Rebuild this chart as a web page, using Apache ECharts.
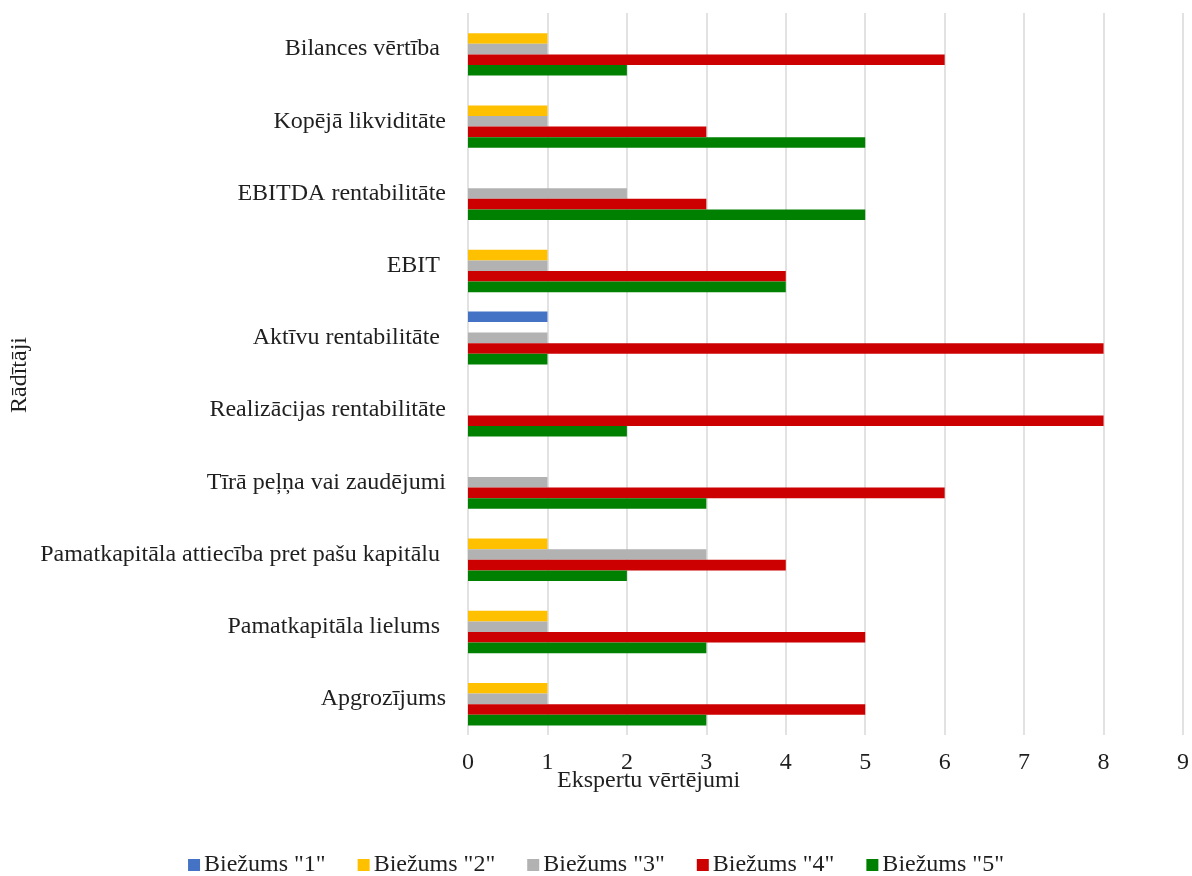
<!DOCTYPE html>
<html>
<head>
<meta charset="utf-8">
<script src="https://cdn.jsdelivr.net/npm/echarts@6/dist/echarts.min.js"></script>
<style>
  html, body { margin: 0; padding: 0; background: #fff; }
  #chart { width: 1192px; height: 876px; }
</style>
</head>
<body>
<div id="chart"></div>
<script>
// Indicators, listed bottom to top along the category axis
const categories = [
  'Apgrozījums',
  'Pamatkapitāla lielums ',
  'Pamatkapitāla attiecība pret pašu kapitālu ',
  'Tīrā peļņa vai zaudējumi',
  'Realizācijas rentabilitāte',
  'Aktīvu rentabilitāte ',
  'EBIT ',
  'EBITDA rentabilitāte',
  'Kopējā likviditāte',
  'Bilances vērtība '
];

// Frequency of each expert score per indicator
const freq1 = [0, 0, 0, 0, 0, 1, 0, 0, 0, 0];
const freq2 = [1, 1, 1, 0, 0, 0, 1, 0, 1, 1];
const freq3 = [1, 1, 3, 1, 0, 1, 1, 2, 1, 1];
const freq4 = [5, 5, 4, 6, 8, 8, 4, 3, 3, 6];
const freq5 = [3, 3, 2, 3, 2, 1, 4, 5, 5, 2];

const seriesNames = ['Biežums "1"', 'Biežums "2"', 'Biežums "3"', 'Biežums "4"', 'Biežums "5"'];
const seriesColors = ['#4472C4', '#FFC000', '#B2B2B2', '#CC0000', '#008000'];
const seriesValues = [freq1, freq2, freq3, freq4, freq5];

const xTicks = [0, 1, 2, 3, 4, 5, 6, 7, 8, 9];

const FONT = '"Liberation Serif", "Times New Roman", serif';
const TEXT = '#1f1f1f';

// Score 1 is drawn at the top of each group, score 5 at the bottom
const series = seriesNames.map((name, i) => ({
  name: name,
  type: 'bar',
  data: seriesValues[i],
  itemStyle: { color: seriesColors[i] },
  barGap: '0%',
  barCategoryGap: '26.6%'
}));

const chart = echarts.init(document.getElementById('chart'), null, { renderer: 'canvas' });
chart.setOption({
  animation: false,
  backgroundColor: '#ffffff',
  textStyle: { fontFamily: FONT },
  grid: { left: 468, right: 6, top: 13, bottom: 141, containLabel: false },
  legend: {
    data: seriesNames,
    bottom: -6,
    left: 'center',
    itemWidth: 12,
    itemHeight: 12,
    itemGap: 32,
    icon: 'rect',
    textStyle: { fontFamily: FONT, fontSize: 24, color: TEXT, padding: [0, 0, 0, -1] }
  },
  xAxis: {
    type: 'value',
    min: 0,
    max: xTicks[xTicks.length - 1],
    interval: 1,
    axisLine: { show: false },
    axisTick: { show: false },
    axisLabel: { fontFamily: FONT, fontSize: 24, color: TEXT, margin: 16 },
    splitLine: { show: true, lineStyle: { color: '#D9D9D9', width: 1.5 } }
  },
  yAxis: {
    type: 'category',
    data: categories,
    axisLine: { show: false },
    axisTick: { show: false },
    axisLabel: { fontFamily: FONT, fontSize: 24, color: TEXT, margin: 22 }
  },
  graphic: [
    {
      type: 'text',
      left: 557,
      top: 769,
      style: { text: 'Ekspertu vērtējumi', font: '24px ' + FONT, fill: TEXT }
    },
    {
      type: 'text',
      x: 8,
      y: 413,
      rotation: Math.PI / 2,
      style: { text: 'Rādītāji', font: '24px ' + FONT, fill: TEXT }
    }
  ],
  series: series
});
</script>
</body>
</html>
